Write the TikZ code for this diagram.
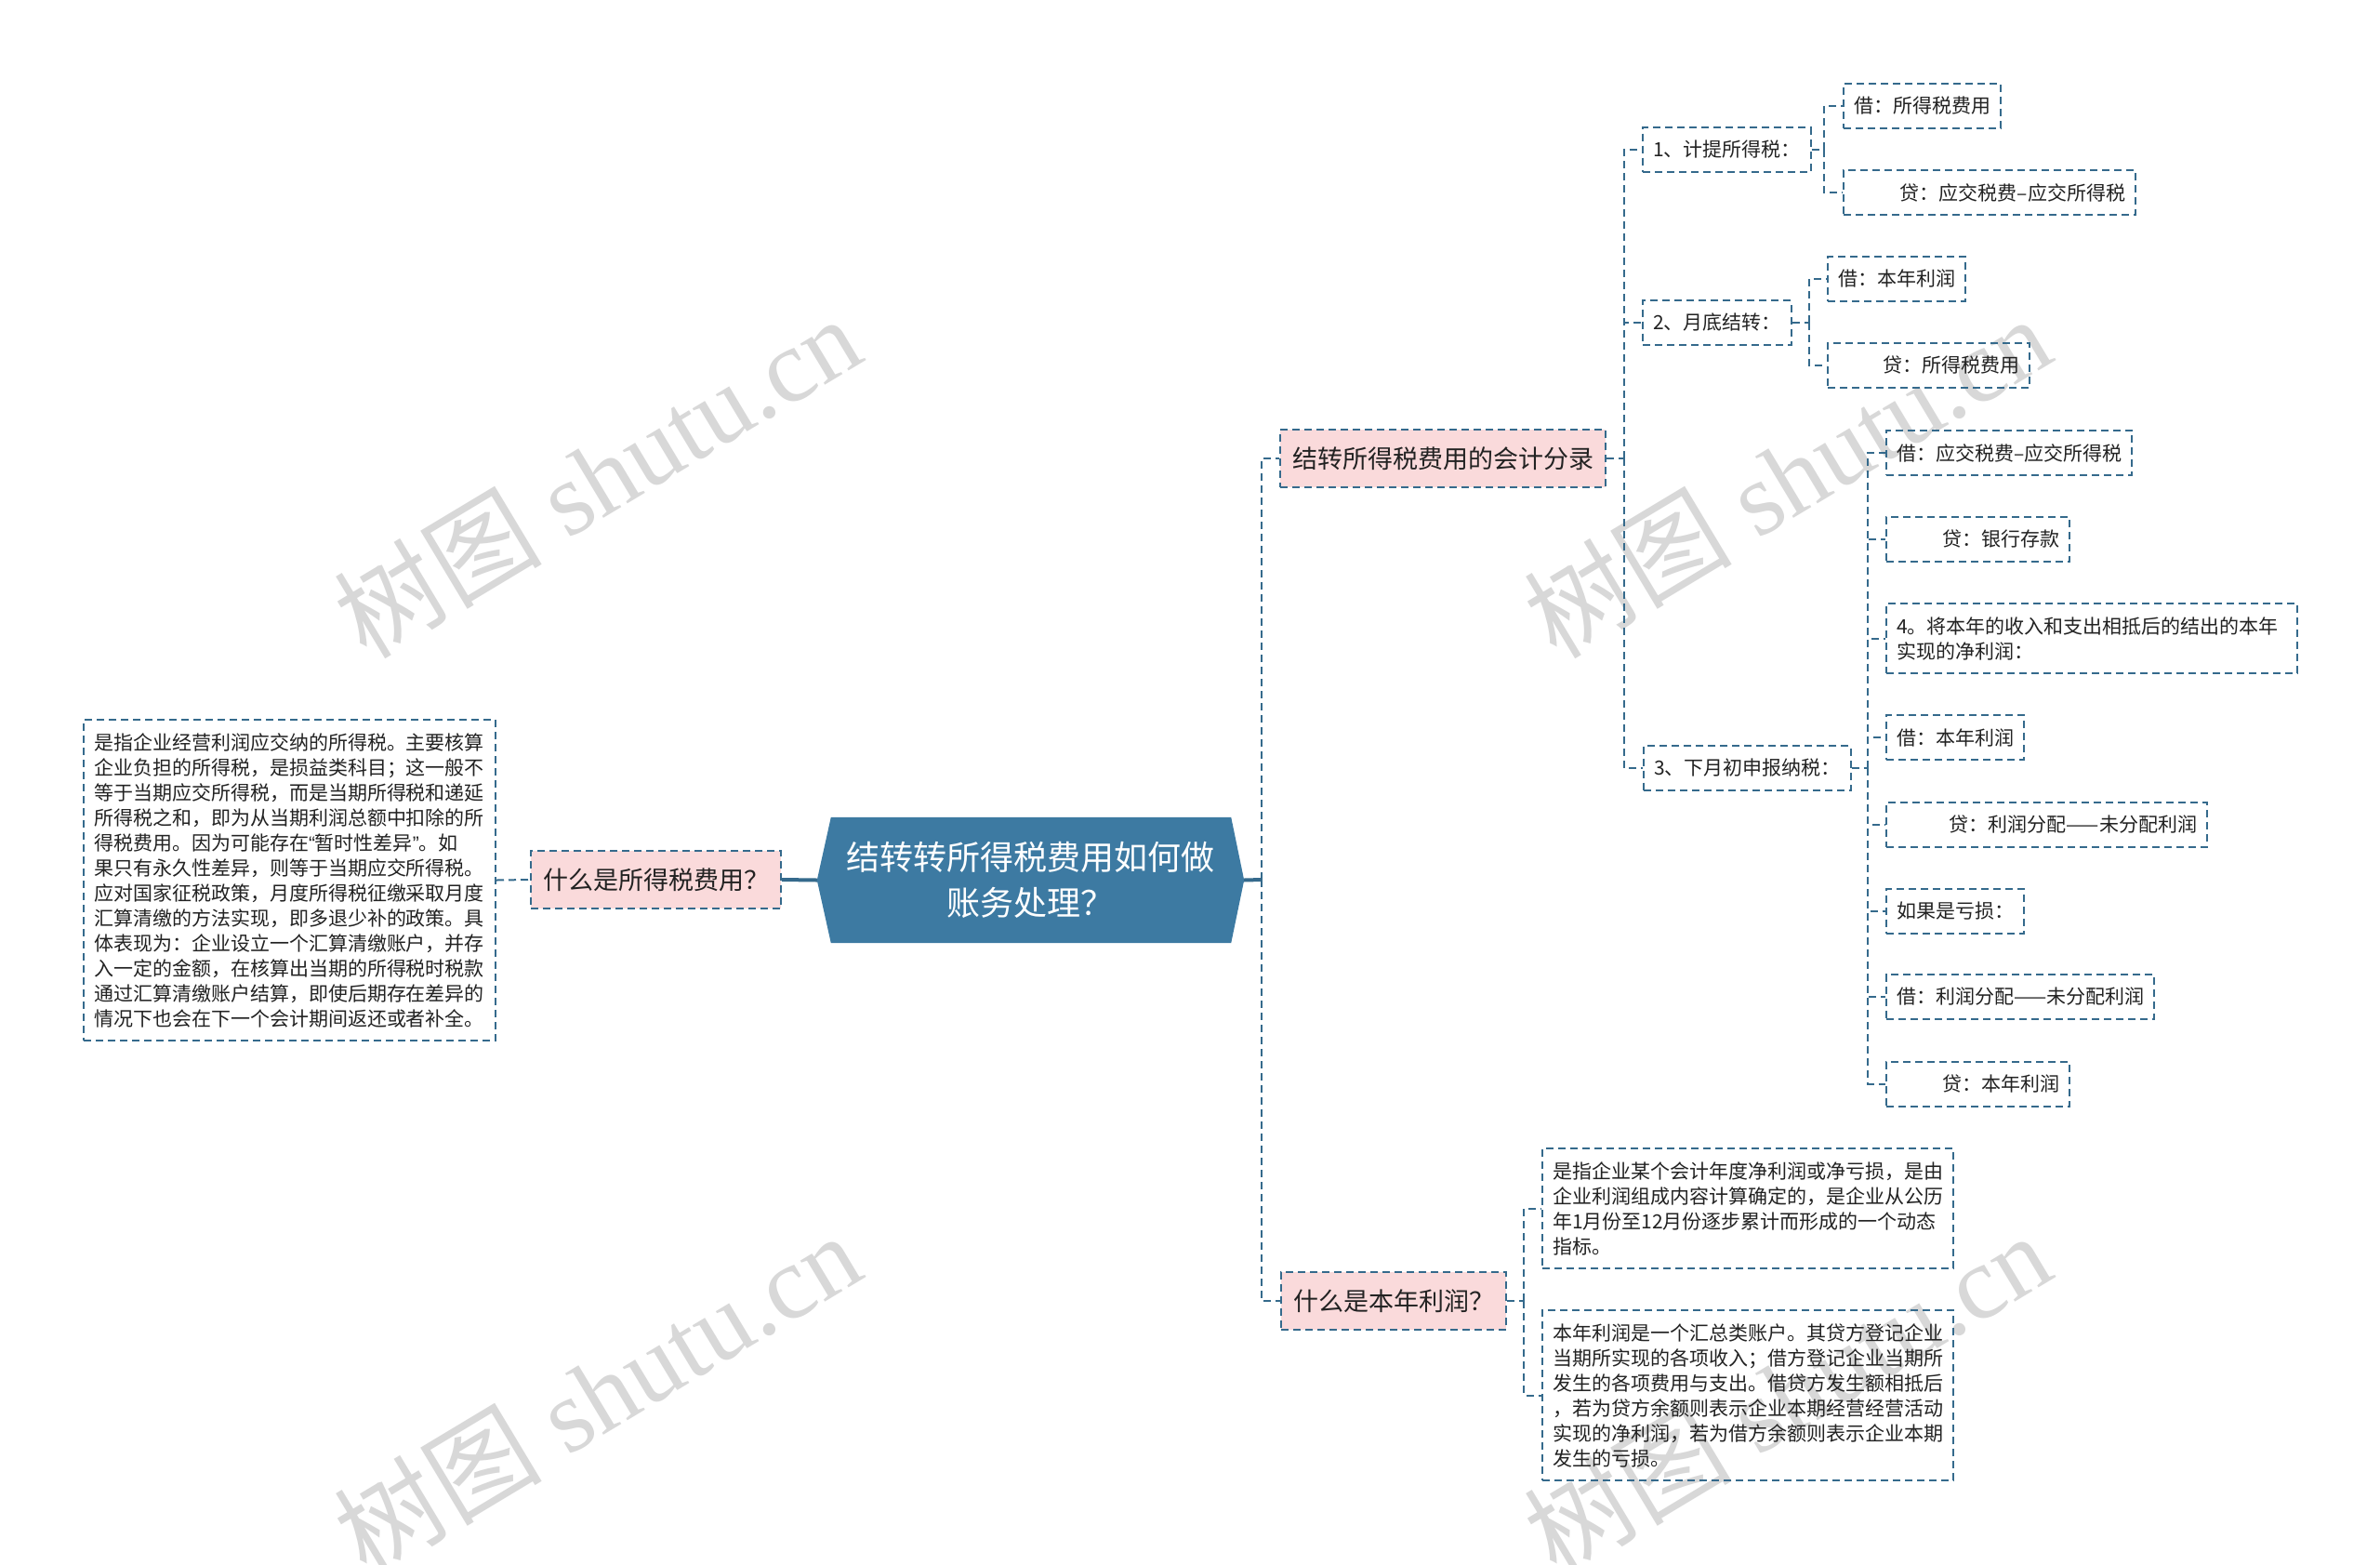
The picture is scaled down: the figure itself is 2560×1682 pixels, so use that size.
\documentclass[tikz,border=0pt]{standalone}
\usepackage{fontspec}
\newfontfamily\cjk{Noto Sans CJK SC}
\newfontfamily\wmserif{Liberation Serif}
\newfontfamily\latq{Liberation Sans}
\usetikzlibrary{calc}
\definecolor{bc}{HTML}{356A8C}
\definecolor{rootc}{HTML}{3D7AA2}
\definecolor{pinkc}{HTML}{FADADB}
\definecolor{txt}{HTML}{222222}
\definecolor{wmc}{HTML}{D8D8D8}
\tikzset{
  box/.style={draw=bc, line width=2pt, dash pattern=on 8pt off 5pt, inner xsep=11pt, inner ysep=0pt,
    minimum height=48pt, font={\cjk\fontsize{21pt}{27pt}\selectfont}, text=txt, anchor=west},
  rbox/.style={box, align=right},
  mbox/.style={box, align=left, text width=421pt},
  lvl1/.style={box, fill=pinkc, minimum height=62pt, inner xsep=13pt, font={\cjk\fontsize{27pt}{33pt}\selectfont}},
  conn/.style={draw=bc, line width=2pt, dash pattern=on 8pt off 5pt},
  solidc/.style={draw=bc, line width=4pt},
  wm/.style={text=wmc, font={\wmserif\fontsize{112pt}{112pt}\selectfont}, rotate=31, inner sep=0pt}
}
\begin{document}
\begin{tikzpicture}[x=1pt,y=-1pt]
\useasboundingbox[fill=white] (0,0) rectangle (2560,1682);

% watermarks
\node[wm] (wm1) at (642,512) {{\cjk 树图} shutu.cn};
\node[wm] (wm2) at (1922,512) {{\cjk 树图} shutu.cn};
\node[wm] (wm3) at (642,1498) {{\cjk 树图} shutu.cn};
\node[wm] (wm4) at (1922,1498) {{\cjk 树图} shutu.cn};

% root
\node[minimum width=459pt, minimum height=135pt, inner sep=0pt] (root) at (1108.5,946.5) {};
\fill[rootc] (root.west) -- ($(root.north west)+(15,0)$) -- ($(root.north east)+(-14,0)$) -- (root.east)
  -- ($(root.south east)+(-14,0)$) -- ($(root.south west)+(15,0)$) -- cycle;
\node[text=white, align=center, font={\cjk\fontsize{36pt}{49pt}\selectfont}] (roottext) at (root.center)
  {结转转所得税费用如何做\\账务处理？};

% left branch
\node[lvl1] (q1) at (570,946) {什么是所得税费用？};
\node[mbox, minimum height=345pt] (p1) at (89,946.5) {是指企业经营利润应交纳的所得税。主要核算\\
企业负担的所得税，是损益类科目；这一般不\\
等于当期应交所得税，而是当期所得税和递延\\
所得税之和，即为从当期利润总额中扣除的所\\
得税费用。因为可能存在{\latq “}暂时性差异{\latq ”}。如\\
果只有永久性差异，则等于当期应交所得税。\\
应对国家征税政策，月度所得税征缴采取月度\\
汇算清缴的方法实现，即多退少补的政策。具\\
体表现为：企业设立一个汇算清缴账户，并存\\
入一定的金额，在核算出当期的所得税时税款\\
通过汇算清缴账户结算，即使后期存在差异的\\
情况下也会在下一个会计期间返还或者补全。};

% right level 1
\node[lvl1] (q2) at (1376,493) {结转所得税费用的会计分录};
\node[lvl1] (q3) at (1377,1399) {什么是本年利润？};

% level 2
\node[box] (n1) at (1766,161) {1、计提所得税：};
\node[box] (n2) at (1766,347) {2、月底结转：};
\node[box] (n3) at (1767,826) {3、下月初申报纳税：};

% children of n1
\node[box] (a1) at (1982,114) {借：所得税费用};
\node[rbox, minimum width=314pt, text width=292pt] (a2) at (1982,207) {贷：应交税费–应交所得税};
% children of n2
\node[box] (d1) at (1965,300) {借：本年利润};
\node[rbox, minimum width=217pt, text width=195pt] (d2) at (1965,393) {贷：所得税费用};
% children of n3
\node[box] (c1) at (2028,487) {借：应交税费–应交所得税};
\node[rbox, minimum width=197pt, text width=175pt] (c2) at (2028,580) {贷：银行存款};
\node[box, align=left, text width=420pt, minimum height=75pt] (c3) at (2028,686.5) {4。将本年的收入和支出相抵后的结出的本年\\实现的净利润：};
\node[box] (c4) at (2028,793) {借：本年利润};
\node[rbox, minimum width=345pt, text width=323pt] (c5) at (2028,886.5) {贷：利润分配——未分配利润};
\node[box] (c6) at (2028,979.5) {如果是亏损：};
\node[box] (c7) at (2028,1072) {借：利润分配——未分配利润};
\node[rbox, minimum width=197pt, text width=175pt] (c8) at (2028,1165.5) {贷：本年利润};

% children of q3
\node[mbox, text width=420pt, minimum height=129pt] (b1) at (1658,1299.5) {是指企业某个会计年度净利润或净亏损，是由\\
企业利润组成内容计算确定的，是企业从公历\\
年1月份至12月份逐步累计而形成的一个动态\\
指标。};
\node[mbox, text width=420pt, minimum height=183pt] (b2) at (1658,1500.5) {本年利润是一个汇总类账户。其贷方登记企业\\
当期所实现的各项收入；借方登记企业当期所\\
发生的各项费用与支出。借贷方发生额相抵后\\
，若为贷方余额则表示企业本期经营经营活动\\
实现的净利润，若为借方余额则表示企业本期\\
发生的亏损。};

% junction coordinates
\coordinate (tR) at (1357,946);
\coordinate (t2) at (1747,493);
\coordinate (t1) at (1962,161);
\coordinate (tt2) at (1946,347);
\coordinate (t3) at (2009,826);
\coordinate (tq3) at (1639,1399);

% connectors
\draw[solidc] (root.west) -- (q1.east);
\draw[solidc] (root.east) -- (tR);
\draw[conn] (p1.east) -- (q1.west);
\draw[conn] (tR) |- (q2.west);
\draw[conn] (tR) |- (q3.west);

\draw[conn] (q2.east) -- (t2);
\draw[conn] (t2) |- (n1.west);
\draw[conn] (t2) |- (n2.west);
\draw[conn] (t2) |- (n3.west);

\draw[conn] (n1.east) -- (t1);
\draw[conn] (t1) |- (a1.west);
\draw[conn] (t1) |- (a2.west);

\draw[conn] (n2.east) -- (tt2);
\draw[conn] (tt2) |- (d1.west);
\draw[conn] (tt2) |- (d2.west);

\draw[conn] (n3.east) -- (t3);
\foreach \c in {c1,c2,c3,c4,c5,c6,c7,c8} {\draw[conn] (t3) |- (\c.west);}

\draw[conn] (q3.east) -- (tq3);
\draw[conn] (tq3) |- (b1.west);
\draw[conn] (tq3) |- (b2.west);
\end{tikzpicture}
\end{document}
